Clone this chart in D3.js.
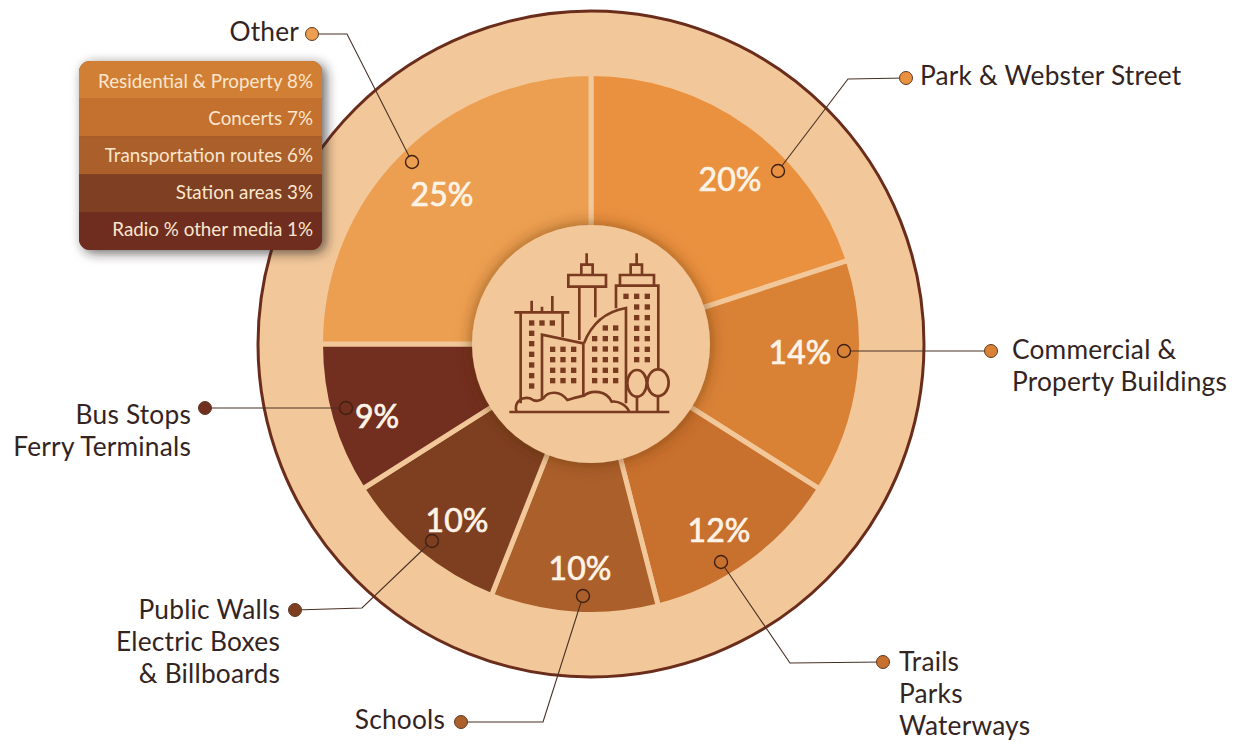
<!DOCTYPE html>
<html>
<head>
<meta charset="utf-8">
<script src="https://cdnjs.cloudflare.com/ajax/libs/d3/7.8.5/d3.min.js"></script>
<style>
html,body{margin:0;padding:0;background:#fff}
svg{display:block}
text{font-family:Lato,"Open Sans",sans-serif}
</style>
</head>
<body>
<script>
// values
var categories = ['Park & Webster Street','Commercial & Property Buildings','Trails Parks Waterways','Schools','Public Walls Electric Boxes & Billboards','Bus Stops Ferry Terminals','Other'];
var values = [20,14,12,10,10,9,25];
var colors = ['#ea913f','#d98236','#c8702d','#ab5f2a','#7e3f20','#722e1e','#ec9f50'];

var otherNames = ['Residential & Property','Concerts','Transportation routes','Station areas','Radio % other media'];
var otherValues = [8,7,6,3,1];
var otherColors = ['#d27f36','#c4702f','#ab5f2b','#7e3f22','#6e2d1f'];

var labelLines = [['Park & Webster Street'],['Commercial &','Property Buildings'],['Trails','Parks','Waterways'],['Schools'],['Public Walls','Electric Boxes','& Billboards'],['Bus Stops','Ferry Terminals'],['Other']];

// layout of callouts, same order as categories
var pctPos = [[730,180],[800,353],[719,531],[580,569],[457,521],[377,417],[442,195]];
var leaderPts = [
  [[906,78],[848,79],[778,171]],
  [[991,351],[844,351]],
  [[883,662],[790,663],[721,562]],
  [[461,722],[543,722],[583,596]],
  [[295,610],[362,608],[432,541]],
  [[205,408],[346,408]],
  [[312,34],[347,34],[412,162]]
];
var labelPos = [
  {x:920,y:85,a:'start'},
  {x:1012,y:359,a:'start'},
  {x:899,y:671,a:'start'},
  {x:445,y:729,a:'end'},
  {x:280,y:619,a:'end'},
  {x:191,y:424,a:'end'},
  {x:299,y:41,a:'end'}
];

var width = 1244, height = 743, cx = 591, cy = 344;
var ringColor = '#f2c89a', dark = '#6b2d1b', inkColor = '#33241f';

var svg = d3.select('body').append('svg').attr('width',width).attr('height',height);

var defs = svg.append('defs');
var sh = defs.append('filter').attr('id','shadow').attr('x','-20%').attr('y','-20%').attr('width','140%').attr('height','140%');
sh.append('feDropShadow').attr('dx',4).attr('dy',3).attr('stdDeviation',6).attr('flood-color','#2a2420').attr('flood-opacity',0.7);
var sh2 = defs.append('filter').attr('id','shadow2').attr('x','-20%').attr('y','-20%').attr('width','140%').attr('height','140%');
sh2.append('feDropShadow').attr('dx',0).attr('dy',0).attr('stdDeviation',8).attr('flood-color','#5a2a10').attr('flood-opacity',0.6);

// outer ring
svg.append('circle').attr('cx',cx).attr('cy',cy).attr('r',333)
  .attr('fill',ringColor).attr('stroke',dark).attr('stroke-width',3);

// slices
var pie = d3.pie().sort(null).value(function(d){return d;});
var arc = d3.arc().innerRadius(0).outerRadius(270.5);
var g = svg.append('g').attr('transform','translate('+cx+','+cy+')');
g.selectAll('path').data(pie(values)).enter().append('path')
  .attr('d',arc)
  .attr('fill',function(d,i){return colors[i];})
  .attr('stroke',ringColor).attr('stroke-width',5);
g.append('circle').attr('r',119).attr('fill',ringColor).attr('filter','url(#shadow2)');

// percent labels
svg.append('g').selectAll('text').data(values).enter().append('text')
  .attr('x',function(d,i){return pctPos[i][0];})
  .attr('y',function(d,i){return pctPos[i][1]+11;})
  .attr('text-anchor','middle').attr('font-size',32).attr('fill','#fdf3e6')
  .attr('stroke','#fdf3e6').attr('stroke-width',0.7)
  .text(function(d){return d+'%';});

// leaders
var line = d3.line();
svg.append('g').selectAll('path').data(leaderPts).enter().append('path')
  .attr('d',function(d){return line(d);})
  .attr('fill','none').attr('stroke','#4a3024').attr('stroke-width',1.1);
svg.append('g').selectAll('circle').data(leaderPts).enter().append('circle')
  .attr('cx',function(d){return d[0][0];}).attr('cy',function(d){return d[0][1];}).attr('r',6.5)
  .attr('fill',function(d,i){return colors[i];}).attr('stroke','#5e3a25').attr('stroke-width',1);
svg.append('g').selectAll('circle').data(leaderPts).enter().append('circle')
  .attr('cx',function(d){return d[d.length-1][0];}).attr('cy',function(d){return d[d.length-1][1];}).attr('r',6.5)
  .attr('fill',function(d,i){return colors[i];}).attr('stroke','#3f2114').attr('stroke-width',1.4);

// category labels
labelLines.forEach(function(lines,i){
  var t = svg.append('text').attr('font-size',26.3).attr('fill',inkColor)
    .attr('text-anchor',labelPos[i].a).attr('letter-spacing',0.2);
  lines.forEach(function(s,j){
    t.append('tspan').attr('x',labelPos[i].x).attr('y',labelPos[i].y+j*32).text(s);
  });
});

// breakdown of Other
var rowY = d3.scaleBand().domain(otherNames).range([61,250]);
var textY = d3.scalePoint().domain(otherNames).range([88,236]);
var clipId = 'boxClip';
defs.append('clipPath').attr('id',clipId).append('rect')
  .attr('x',79).attr('y',61).attr('width',243).attr('height',189).attr('rx',11);
svg.append('rect').attr('x',79).attr('y',61).attr('width',243).attr('height',189).attr('rx',11)
  .attr('fill','#7e3f22').attr('filter','url(#shadow)');
var box = svg.append('g').attr('clip-path','url(#'+clipId+')');
box.selectAll('rect').data(otherNames).enter().append('rect')
  .attr('x',79).attr('width',243)
  .attr('y',function(d){return rowY(d);}).attr('height',rowY.bandwidth())
  .attr('fill',function(d,i){return otherColors[i];});
svg.append('g').selectAll('text').data(otherNames).enter().append('text')
  .attr('x',313).attr('y',function(d){return textY(d);})
  .attr('text-anchor','end').attr('font-size',18.8).attr('fill','#fbe6cd')
  .text(function(d,i){return d+' '+otherValues[i]+'%';});

// city icon, drawn in zoomed-crop units
var icon = svg.append('g').attr('transform','translate(480,230) scale(0.3333)')
  .attr('fill','none').attr('stroke','#7a3a20').attr('stroke-width',8);
[
  'M88,546H568',
  // left tower
  'M103,247H268M122,247V520M248,247V322M155,247V212M186,247V230M217,247V198',
  // front block
  'M186,505V314L310,340V495',
  // curved block
  'M312,340C335,280 375,245 438,234V520',
  // middle tower
  'M298,330V170M346,262V170M265,135H378V170H265ZM304,135V104H338V135ZM320,104V70',
  // right tower
  'M408,235V167H535V420M420,167V135H522V167M452,135V104H486V135M470,104V70',
  // bushes
  'M110,546C100,515 125,500 150,505C165,515 178,515 190,505C205,482 240,482 262,510C280,505 295,500 312,497C335,478 380,482 395,515C415,512 440,525 448,546',
  // trees
  'M471,500V546M534,498V546'
].forEach(function(p){ icon.append('path').attr('d',p); });
icon.append('ellipse').attr('cx',471).attr('cy',460).attr('rx',29).attr('ry',40).attr('fill',ringColor);
icon.append('ellipse').attr('cx',534).attr('cy',458).attr('rx',32).attr('ry',40).attr('fill',ringColor);

// windows
var win = icon.append('g').attr('fill','#7a3a20').attr('stroke','none');
function windows(xs,ys){
  xs.forEach(function(x){ ys.forEach(function(y){
    win.append('rect').attr('x',x-8).attr('y',y-8).attr('width',16).attr('height',16);
  });});
}
windows([155,186,217],[279]);
windows([155],[310,341,373,405,437,468]);
windows([218,249,281],[358,389,421,452]);
windows([376,407],[294]);
windows([344,376,407],[326,357,389,421,452]);
windows([438,470,502],[199]);
windows([470,502],[231,263,295,326,358,389]);
</script>
</body>
</html>
